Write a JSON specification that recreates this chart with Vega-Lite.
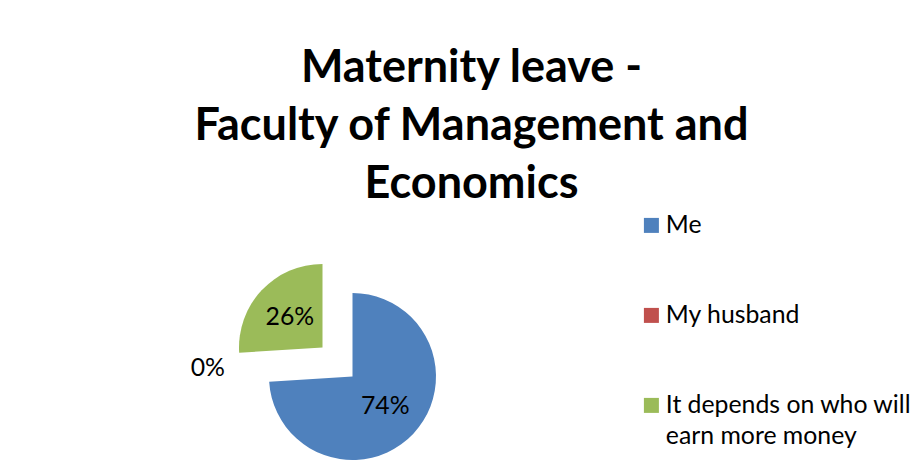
{
  "$schema": "https://vega.github.io/schema/vega-lite/v6.json",
  "autosize": {"type": "none"},
  "padding": {"left": 269, "top": 293, "right": 487, "bottom": 4},
  "width": 167,
  "height": 167,
  "background": "white",
  "config": {"view": {"stroke": null}, "font": "Lato"},
  "title": {
    "text": ["Maternity leave -", "Faculty of Management and", "Economics"],
    "font": "Lato",
    "fontSize": 45,
    "fontWeight": "bold",
    "color": "black",
    "lineHeight": 58,
    "anchor": "middle",
    "frame": "group",
    "dx": 119,
    "offset": 6
  },
  "data": {
    "values": [
      {"category": "Me", "value": 0.74},
      {"category": "My husband", "value": 0},
      {"category": "It depends on who will earn more money", "value": 0.26}
    ]
  },
  "transform": [
    {"window": [{"op": "row_number", "as": "idx"}]},
    {"stack": "value", "groupby": [], "sort": [{"field": "idx", "order": "ascending"}], "as": ["v0", "v1"]}
  ],
  "encoding": {
    "color": {
      "field": "category",
      "type": "nominal",
      "scale": {
        "domain": ["Me", "My husband", "It depends on who will earn more money"],
        "range": ["#4F81BD", "#C0504D", "#9BBB59"]
      },
      "legend": {
        "title": null,
        "orient": "none",
        "legendX": 370,
        "legendY": -80,
        "direction": "vertical",
        "padding": 0,
        "symbolType": "square",
        "symbolSize": 225,
        "symbolStrokeWidth": 0,
        "symbolOpacity": 1,
        "labelFont": "Lato",
        "labelFontSize": 24.8,
        "labelColor": "black",
        "labelLimit": 0,
        "labelOffset": 2,
        "labelBaseline": "top",
        "rowPadding": 65,
        "labelExpr": "datum.label == 'It depends on who will earn more money' ? ['It depends on who will', 'earn more money'] : datum.label",
        "encode": {"labels": {"update": {"dy": {"value": -12.3}, "lineHeight": {"value": 31}}}}
      }
    }
  },
  "layer": [
    {
      "transform": [{"filter": "datum.category != 'It depends on who will earn more money'"}],
      "mark": {"type": "arc"},
      "encoding": {
        "theta": {"field": "v0", "type": "quantitative", "scale": {"domain": [0, 1]}},
        "theta2": {"field": "v1"}
      }
    },
    {
      "transform": [{"filter": "datum.category == 'It depends on who will earn more money'"}],
      "mark": {"type": "arc", "xOffset": -30, "yOffset": -29},
      "encoding": {
        "theta": {"field": "v0", "type": "quantitative", "scale": {"domain": [0, 1]}},
        "theta2": {"field": "v1"}
      }
    },
    {
      "transform": [{"filter": "datum.category != 'My husband'"}],
      "mark": {"type": "text", "radius": {"expr": "datum.category == 'Me' ? 45 : 86"}, "font": "Lato", "fontSize": 24.8},
      "encoding": {
        "theta": {"field": "value", "type": "quantitative", "stack": true, "scale": {"domain": [0, 1]}},
        "order": {"field": "idx", "type": "quantitative"},
        "detail": {"field": "category", "type": "nominal"},
        "text": {"field": "value", "type": "quantitative", "format": ".0%"},
        "color": {"value": "black"}
      }
    },
    {
      "transform": [{"filter": "datum.category == 'My husband'"}],
      "mark": {"type": "text", "radius": 145, "yOffset": -17, "font": "Lato", "fontSize": 24.8},
      "encoding": {
        "theta": {"field": "v0", "type": "quantitative", "scale": {"domain": [0, 1]}},
        "text": {"field": "value", "type": "quantitative", "format": ".0%"},
        "color": {"value": "black"}
      }
    }
  ]
}
